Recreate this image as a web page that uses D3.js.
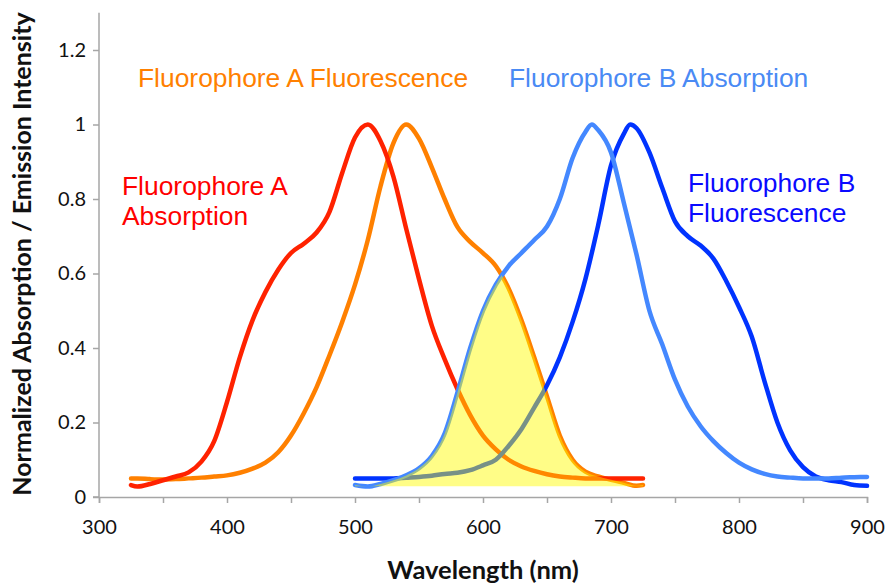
<!DOCTYPE html>
<html>
<head>
<meta charset="utf-8">
<script src="https://cdn.jsdelivr.net/npm/d3@7"></script>
<style>
  body { margin: 0; background: #fff; }
  svg { display: block; }
</style>
</head>
<body>
<svg id="chart" width="890" height="585"></svg>
<script>
// Fluorophore A spectra (nm)
const waveA = [325, 330, 340, 350, 360, 370, 380, 390, 400, 410, 420, 430, 440, 450, 460, 470, 480, 490, 500, 510,
               520, 530, 540, 550, 560, 570, 580, 590, 600, 610, 620, 630, 640, 650, 660, 670, 680, 690, 700, 710, 720, 725];
const absorptionA = [0.032, 0.028, 0.035, 0.045, 0.055, 0.066, 0.095, 0.15, 0.255, 0.375, 0.475, 0.55, 0.61, 0.655, 0.68, 0.71, 0.765, 0.87, 0.965, 1.0,
                     0.955, 0.86, 0.72, 0.585, 0.46, 0.37, 0.29, 0.22, 0.165, 0.128, 0.1, 0.082, 0.07, 0.061, 0.055, 0.052, 0.05, 0.05, 0.05, 0.05, 0.05, 0.05];
const fluorescenceA = [0.05, 0.05, 0.048, 0.047, 0.048, 0.05, 0.052, 0.055, 0.058, 0.065, 0.076, 0.092, 0.12, 0.165, 0.225, 0.295, 0.38, 0.47, 0.57, 0.69,
                       0.835, 0.95, 1.0, 0.962, 0.885, 0.8, 0.725, 0.685, 0.655, 0.62, 0.56, 0.475, 0.375, 0.27, 0.165, 0.1, 0.068, 0.055, 0.046, 0.038, 0.03, 0.032];

// Fluorophore B spectra (nm)
const waveAbsB = [500, 510, 520, 530, 540, 550, 560, 570, 580, 590, 600, 610, 620, 630, 640, 650, 660, 670, 680, 685, 690,
                  700, 710, 720, 730, 740, 750, 760, 770, 780, 790, 800, 810, 820, 830, 840, 850, 860, 870, 880, 890, 900];
const absorptionB = [0.032, 0.028, 0.035, 0.045, 0.058, 0.077, 0.11, 0.17, 0.28, 0.4, 0.5, 0.57, 0.62, 0.655, 0.69, 0.726, 0.8, 0.91, 0.98, 1.0, 0.985,
                     0.925, 0.79, 0.65, 0.5, 0.41, 0.315, 0.243, 0.19, 0.15, 0.118, 0.092, 0.074, 0.062, 0.055, 0.052, 0.05, 0.05, 0.05, 0.052, 0.053, 0.054];
const waveFluB = [500, 510, 520, 530, 540, 550, 560, 570, 580, 590, 600, 610, 620, 630, 640, 650, 660, 670, 680, 690, 700, 710, 715,
                  720, 730, 740, 750, 760, 770, 780, 790, 800, 810, 820, 830, 840, 850, 860, 870, 880, 890, 900];
const fluorescenceB = [0.05, 0.05, 0.05, 0.05, 0.052, 0.054, 0.057, 0.062, 0.065, 0.072, 0.085, 0.1, 0.137, 0.182, 0.24, 0.3, 0.375, 0.47, 0.585, 0.73, 0.89, 0.975, 1.0,
                       0.99, 0.925, 0.83, 0.74, 0.7, 0.675, 0.64, 0.58, 0.51, 0.43, 0.31, 0.2, 0.125, 0.08, 0.055, 0.045, 0.04, 0.032, 0.03];

// Axis ticks
const xTicks = [300, 350, 400, 450, 500, 550, 600, 650, 700, 750, 800, 850, 900];
const xTickLabels = [300, 400, 500, 600, 700, 800, 900];
const yTicks = [0, 0.2, 0.4, 0.6, 0.8, 1.0, 1.2];
const overlapFloor = 0.028;

const series = [
  { name: "fluorescenceA", wave: waveA, values: fluorescenceA, color: "#ff8000" },
  { name: "absorptionA", wave: waveA, values: absorptionA, color: "#ff2200" },
  { name: "fluorescenceB", wave: waveFluB, values: fluorescenceB, color: "#0033ff" },
  { name: "absorptionB", wave: waveAbsB, values: absorptionB, color: "#4488ff" }
];

const labels = [
  { lines: ["Fluorophore A Fluorescence"], x: 138, y: 87, color: "#ff8000" },
  { lines: ["Fluorophore B Absorption"], x: 509, y: 87, color: "#4a8af4" },
  { lines: ["Fluorophore A", "Absorption"], x: 122, y: 195, color: "#ff0000" },
  { lines: ["Fluorophore B", "Fluorescence"], x: 688, y: 192, color: "#0a0aff" }
];

const svg = d3.select("#chart");
const x = d3.scaleLinear().domain([300, 900]).range([99, 867]);
const y = d3.scaleLinear().domain([0, 1.3]).range([497, 12.75]);

const axisColor = "#a6a6a6";
const tickFont = "Lato, 'Open Sans', sans-serif";

// Y axis
const yAxis = svg.append("g")
  .attr("transform", `translate(${x(300)},0)`)
  .call(d3.axisLeft(y).tickValues(yTicks).tickSize(6).tickPadding(7)
    .tickFormat(d => d3.format("~g")(d)));
// X axis
const xAxis = svg.append("g")
  .attr("transform", `translate(0,${y(0)})`)
  .call(d3.axisBottom(x).tickValues(xTicks).tickSize(6).tickPadding(17)
    .tickFormat(d => xTickLabels.includes(d) ? d : ""));

[yAxis, xAxis].forEach(g => {
  g.select(".domain").attr("stroke", axisColor).attr("stroke-width", 1.5);
  g.selectAll(".tick line").attr("stroke", axisColor).attr("stroke-width", 1.5);
  g.selectAll(".tick text").attr("fill", "#111").style("font-family", tickFont).style("font-size", "20px");
});
// the y axis line runs to the top of the plot
yAxis.select(".domain").attr("d", `M-6,${y(0)}H0V${y(1.3)}`);

// Axis titles
svg.append("text")
  .attr("x", 483).attr("y", 579)
  .attr("text-anchor", "middle")
  .style("font-family", tickFont).style("font-weight", "bold").style("font-size", "25.5px")
  .attr("fill", "#111")
  .text("Wavelength (nm)");
svg.append("text")
  .attr("transform", "translate(31,254) rotate(-90)")
  .attr("text-anchor", "middle")
  .style("font-family", tickFont).style("font-weight", "bold").style("font-size", "25px")
  .attr("fill", "#111")
  .text("Normalized Absorption / Emission Intensity");

// Spectra
const line = d3.line()
  .x(d => x(d[0]))
  .y(d => y(d[1]))
  .curve(d3.curveMonotoneX);

series.forEach(s => {
  const pts = s.wave.map((w, i) => [w, s.values[i]]);
  svg.append("path")
    .datum(pts)
    .attr("fill", "none")
    .attr("stroke", s.color)
    .attr("stroke-width", 4.5)
    .attr("stroke-linejoin", "round")
    .attr("stroke-linecap", "round")
    .attr("d", line);
});

// Spectral overlap: area under A fluorescence clipped to the area under B absorption
const area = d3.area()
  .x(d => x(d[0]))
  .y0(y(overlapFloor))
  .y1(d => y(d[1]))
  .curve(d3.curveMonotoneX);

svg.append("clipPath").attr("id", "under-absB")
  .append("path")
  .datum(waveAbsB.map((w, i) => [w, absorptionB[i]]))
  .attr("d", area);

svg.append("path")
  .datum(waveA.map((w, i) => [w, fluorescenceA[i]]))
  .attr("clip-path", "url(#under-absB)")
  .attr("fill", "rgb(255,250,0)")
  .attr("fill-opacity", 0.47)
  .attr("d", area);

// Curve labels
labels.forEach(l => {
  const t = svg.append("text")
    .attr("x", l.x).attr("y", l.y)
    .attr("fill", l.color)
    .style("font-family", "'Liberation Sans', Arial, sans-serif")
    .style("font-size", "26.4px");
  l.lines.forEach((s, i) => {
    t.append("tspan").attr("x", l.x).attr("dy", i === 0 ? 0 : 30).text(s);
  });
});
</script>
</body>
</html>
